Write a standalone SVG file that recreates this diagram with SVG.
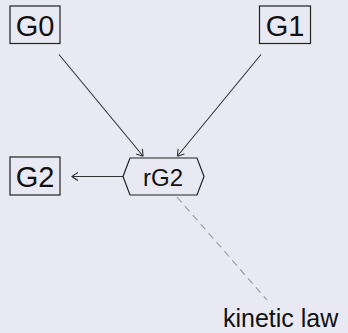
<svg xmlns="http://www.w3.org/2000/svg" width="348" height="333" viewBox="0 0 348 333">
<style>
.bg{fill:#e9e9f3}
.box{fill:none;stroke:#222;stroke-width:1.2}
.lbl{font-family:"Liberation Sans",Arial,sans-serif;fill:#111;text-anchor:middle}
.edge{fill:none;stroke:#333;stroke-width:1.1}
.dash{fill:none;stroke:#999;stroke-width:1.1;stroke-dasharray:7 5}
</style>
<defs>
<marker id="arr" viewBox="-8 -5 10 10" refX="0" refY="0" markerWidth="10" markerHeight="10" markerUnits="userSpaceOnUse" orient="auto">
<path d="M-6,-4 Q-1,-1 0,0 Q-1,1 -6,4" fill="none" stroke="#333" stroke-width="1.1"/>
</marker>
</defs>
<rect class="bg" x="0" y="0" width="348" height="333"/>
<g id="connectors">
<line class="edge" x1="59" y1="54.5" x2="143" y2="156" marker-end="url(#arr)"/>
<line class="edge" x1="261" y1="54.5" x2="177.5" y2="156" marker-end="url(#arr)"/>
<line class="edge" x1="123" y1="176.5" x2="72" y2="176.5" marker-end="url(#arr)"/>
<line class="dash" x1="177" y1="197" x2="267" y2="300"/>
</g>
<g id="G0">
<rect class="box" x="10" y="6" width="50" height="37.5"/>
<text class="lbl" x="35" y="35.5" font-size="29">G0</text>
</g>
<g id="G1">
<rect class="box" x="259.5" y="6" width="51" height="37.5"/>
<text class="lbl" x="285" y="35.5" font-size="29">G1</text>
</g>
<g id="G2">
<rect class="box" x="10" y="157" width="50" height="38"/>
<text class="lbl" x="35" y="186.5" font-size="29">G2</text>
</g>
<g id="rG2">
<polygon class="box" points="123,176.5 130,158 197,158 204,176.5 197,195 130,195"/>
<text class="lbl" x="163" y="186" font-size="24">rG2</text>
</g>
<g id="kinetic-law">
<text class="lbl" x="223" y="327" font-size="25" style="text-anchor:start">kinetic law</text>
</g>
</svg>
